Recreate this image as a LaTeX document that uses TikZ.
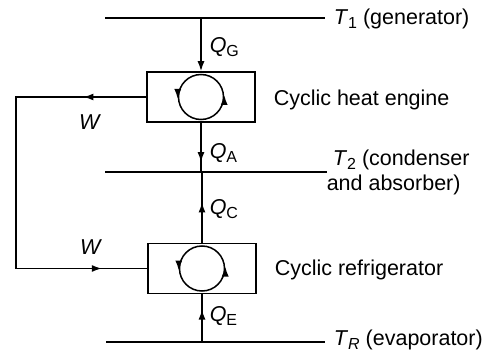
\documentclass[tikz,border=0pt]{standalone}
\usepackage{fontspec}
\setmainfont{Liberation Sans}
\usetikzlibrary{arrows.meta,decorations.markings}
\newcommand\mysub[1]{\raisebox{-4pt}{\fontsize{16}{16}\selectfont #1}}
\begin{document}
\begin{tikzpicture}[x=1pt,y=-1pt,line width=1.5pt,
  tipstyle/.style={-{Latex[length=10pt,width=7pt]}},
  midarrow/.style={postaction={decorate},decoration={markings,
     mark=at position #1 with {\arrow{Latex[length=10pt,width=7pt]}}}},
  twoarrows/.style 2 args={postaction={decorate},decoration={markings,
     mark=at position #1 with {\arrow{Latex[length=10pt,width=7pt]}},
     mark=at position #2 with {\arrow{Latex[length=10pt,width=7pt]}}}},
  lbl/.style={font=\fontsize{21.5}{24}\selectfont,inner sep=0pt,anchor=base west},
  cyclebox/.style={draw,minimum width=108pt,minimum height=50pt,inner sep=0pt},
  cyclering/.style={draw,circle,minimum size=45pt,inner sep=0pt}]
\useasboundingbox (0,0) rectangle (488,353);
% reservoir lines
\coordinate (t1a) at (105,18);  \coordinate (t1b) at (325,18);
\coordinate (t2a) at (105,172); \coordinate (t2b) at (327,172);
\coordinate (tra) at (106,342); \coordinate (trb) at (325,342);
\draw (t1a) -- (t1b);
\draw (t2a) -- (t2b);
\draw (tra) -- (trb);
% boxes
\node[cyclebox] (eng) at (201,97) {};
\node[cyclebox] (ref) at (202,268.5) {};
\node[cyclering] (c1) at (eng.center) {};
\node[cyclering] (c2) at (ref.center) {};
\foreach \c in {c1,c2}{
  \draw[tipstyle] ([yshift=2pt]\c.west) -- ([yshift=-2pt]\c.west);
  \draw[tipstyle] ([yshift=-2pt]\c.east) -- ([yshift=2pt]\c.east);
}
% heat flows
\coordinate (qg) at (eng.north |- t1a);
\draw[tipstyle] (qg) -- (eng.north);
\coordinate (qa) at (eng.south |- t2a);
\draw[midarrow=0.8] (eng.south) -- (qa);
\coordinate (qc) at (ref.north |- t2a);
\draw[midarrow=0.57] (ref.north) -- (qc);
\coordinate (qe) at (ref.south |- tra);
\draw[midarrow=0.68] (qe) -- (ref.south);
% work
\coordinate (wl1) at (16,97);
\coordinate (wl2) at (16,268.5);
\draw[twoarrows={0.145}{0.895}] (eng.west) -- (wl1) -- (wl2) -- (ref.west);
% labels
\node[lbl] (lqg) at (209,53) {\textit{Q}\mysub{G}};
\node[lbl] (lqa) at (209,158) {\textit{Q}\mysub{A}};
\node[lbl] (lqc) at (209,214) {\textit{Q}\mysub{C}};
\node[lbl] (lqe) at (209,321) {\textit{Q}\mysub{E}};
\node[lbl,anchor=center] (lw1) at (90,122) {\textit{W}};
\node[lbl,anchor=center] (lw2) at (91,247) {\textit{W}};
\node[lbl] (lt1) at (333,25) {\textit{T}\mysub{1} (generator)};
\node[lbl] (leng) at (273,106) {Cyclic heat engine};
\node[lbl] (lt2) at (332,165) {\textit{T}\mysub{2} (condenser};
\node[lbl] (lt2b) at (326,190) {and absorber)};
\node[lbl] (lref) at (274,275) {Cyclic refrigerator};
\node[lbl] (ltr) at (333,345) {\textit{T}\mysub{\textit{R}} (evaporator)};
\end{tikzpicture}
\end{document}
